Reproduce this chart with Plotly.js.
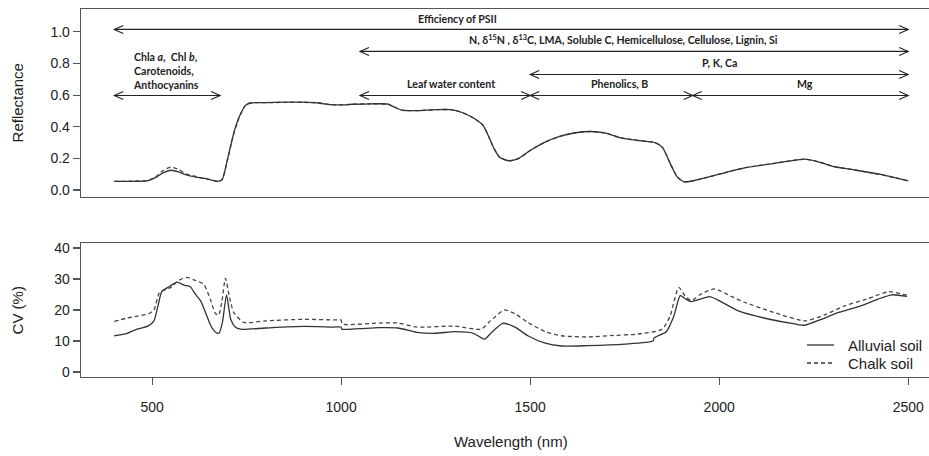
<!DOCTYPE html>
<html><head><meta charset="utf-8">
<script src="https://cdn.plot.ly/plotly-3.0.1.min.js"></script>
<style>html,body{margin:0;padding:0;background:#fff;overflow:hidden}#chart{width:929px;height:456px}</style>
</head><body><div id="chart"></div>
<script>
// ---- Reflectance (top panel) ----
const wlRefl = [400,450,490,510,530,550,570,590,620,650,672,685,700,716,730,747,760,800,850,900,940,970,1000,1030,1080,1124,1140,1160,1200,1250,1290,1320,1350,1375,1390,1405,1420,1445,1470,1500,1537,1580,1620,1660,1700,1740,1790,1830,1850,1870,1890,1908,1930,1960,2000,2067,2150,2227,2260,2300,2350,2423,2470,2500];
const reflAlluvial = [0.055,0.055,0.060,0.080,0.110,0.125,0.115,0.095,0.080,0.068,0.055,0.065,0.200,0.360,0.460,0.535,0.550,0.553,0.555,0.555,0.550,0.540,0.538,0.542,0.545,0.543,0.525,0.505,0.502,0.508,0.508,0.490,0.455,0.410,0.340,0.260,0.205,0.185,0.200,0.250,0.300,0.340,0.362,0.370,0.360,0.330,0.312,0.300,0.270,0.170,0.080,0.052,0.058,0.075,0.100,0.140,0.170,0.195,0.180,0.150,0.130,0.100,0.075,0.058];
const reflChalk    = [0.055,0.056,0.062,0.085,0.125,0.145,0.130,0.102,0.083,0.068,0.056,0.065,0.195,0.355,0.455,0.535,0.550,0.552,0.554,0.554,0.550,0.540,0.538,0.542,0.545,0.543,0.525,0.505,0.502,0.508,0.508,0.490,0.455,0.410,0.340,0.260,0.205,0.185,0.200,0.250,0.300,0.340,0.362,0.370,0.360,0.330,0.312,0.300,0.270,0.170,0.080,0.052,0.058,0.075,0.100,0.140,0.170,0.195,0.180,0.150,0.130,0.100,0.075,0.058];

// ---- CV (bottom panel) ----
const wlCvAlluvial = [400,430,460,490,505,515,526,545,566,585,601,615,628,641,655,668,677,686,697,708,720,734,800,900,980,1000,1002,1050,1100,1150,1200,1250,1300,1350,1379,1400,1428,1460,1494,1540,1583,1650,1750,1825,1828,1860,1880,1897,1912,1925,1950,1975,2000,2051,2130,2200,2227,2270,2316,2377,2420,2457,2497];
const cvAlluvial   = [11.7,12.3,13.8,14.9,16.5,21,26,27.5,29,28,27.5,25,23,19.3,15,12.8,12.5,16,24.9,17,14.5,13.8,14.2,14.7,14.5,14.5,13.8,14,14.3,14.2,12.8,12.5,13,12.5,10.6,13,15.7,14.5,11.7,9.3,8.4,8.5,9.0,10,11,13,18,24.6,23.5,22.7,23.5,24.3,23,19.7,17.1,15.5,15.1,17,19.2,21.4,23.5,24.9,24.4];
const wlCvChalk = [400,430,460,490,505,520,550,570,592,615,636,654,667,676,685,694,705,716,743,800,900,980,1000,1003,1100,1150,1200,1300,1370,1395,1432,1460,1494,1540,1583,1650,1720,1780,1849,1870,1893,1910,1926,1950,1988,2030,2067,2150,2227,2280,2333,2390,2448,2497];
const cvChalk   = [16.3,17.3,18,18.7,20,25.7,27.3,29.5,30.5,29.5,28.4,23.5,19,18.3,23,30.2,24,19.2,16,16.5,17,16.8,16.8,15.5,15.8,15.8,14.5,14.8,13.8,16.5,20,18.8,16,13,11.7,11.3,11.8,12.2,13.8,18,27.3,24.5,23,25,26.8,24.5,22.5,19,16.5,18.5,21.4,23.5,25.9,24.8];

const seriesNames = ['Alluvial soil','Chalk soil'];
const xTicks = [500,1000,1500,2000,2500];
const reflTicks = [0,0.2,0.4,0.6,0.8,1.0];
const cvTicks = [0,10,20,30,40];

// ---- Arrow annotations ----
const arrowLabels = ['Efficiency of PSII',
  'N, δ<sup>15</sup>N , δ<sup>13</sup>C, LMA, Soluble C, Hemicellulose, Cellulose, Lignin, Si',
  'P, K, Ca','Leaf water content','Phenolics, B','Mg',
  'Chla <i>a</i>,  Chl <i>b</i>,<br>Carotenoids,<br>Anthocyanins'];
const arrowStart = [400,1050,1500,1050,1500,1930,400];
const arrowEnd   = [2500,2500,2500,1500,1930,2500,680];
const arrowLevel = [1.015,0.876,0.73,0.597,0.597,0.597,0.597];

const labelPosX = [1307,1748,2001,1291,1736,2227,445];
const labelPosY = [1.082,0.95,0.80,0.667,0.667,0.667,0.752];

const lineCol = '#333333';
const solid = {color:lineCol,width:1.3,shape:'spline',smoothing:0.6};
const dashed = {color:'#444444',width:1.3,dash:'4px,3px',shape:'spline',smoothing:0.6};

const traces = [
  {x:wlRefl,y:reflChalk,xaxis:'x2',yaxis:'y2',mode:'lines',line:dashed,showlegend:false,hoverinfo:'skip'},
  {x:wlRefl,y:reflAlluvial,xaxis:'x2',yaxis:'y2',mode:'lines',line:solid,showlegend:false,hoverinfo:'skip'},
  {x:wlCvAlluvial,y:cvAlluvial,xaxis:'x',yaxis:'y',mode:'lines',line:solid,name:seriesNames[0],showlegend:false},
  {x:wlCvChalk,y:cvChalk,xaxis:'x',yaxis:'y',mode:'lines',line:dashed,name:seriesNames[1],showlegend:false}
];

const shapes = [];
const annotations = [];
const annFont = {family:'Lato, "Open Sans", sans-serif',size:10.6,color:'#222',weight:'bold'};
for (let i=0;i<arrowLabels.length;i++){
  shapes.push({type:'line',xref:'x2',yref:'y2',x0:arrowStart[i],x1:arrowEnd[i],y0:arrowLevel[i],y1:arrowLevel[i],line:{color:'#222',width:1.1}});
  shapes.push({type:'path',xref:'x2',yref:'y2',xsizemode:'pixel',ysizemode:'pixel',xanchor:arrowStart[i],yanchor:arrowLevel[i],path:'M 9 4 L 0 0 L 9 -4',line:{color:'#222',width:1.1}});
  shapes.push({type:'path',xref:'x2',yref:'y2',xsizemode:'pixel',ysizemode:'pixel',xanchor:arrowEnd[i],yanchor:arrowLevel[i],path:'M -9 4 L 0 0 L -9 -4',line:{color:'#222',width:1.1}});
  const isLeft = i===arrowLabels.length-1;
  annotations.push({xref:'x2',yref:'y2',x:labelPosX[i],y:labelPosY[i],text:arrowLabels[i],showarrow:false,
    font:annFont,xanchor:isLeft?'left':'center',yanchor:'middle',align:isLeft?'left':'center'});
}
const titleFont = {family:'"Liberation Sans", Arial, sans-serif',size:15,color:'#222'};
annotations.push({xref:'paper',yref:'paper',x:-0.075,y:(377-103)/368,text:'Reflectance',textangle:-90,showarrow:false,font:titleFont,xanchor:'center',yanchor:'middle'});
annotations.push({xref:'paper',yref:'paper',x:-0.075,y:(377-310)/368,text:'CV (%)',textangle:-90,showarrow:false,font:titleFont,xanchor:'center',yanchor:'middle'});
annotations.push({xref:'x',yref:'paper',x:1450,y:-(441.7-377)/368,text:'Wavelength (nm)',showarrow:false,font:titleFont,xanchor:'center',yanchor:'middle'});

// manual legend (bottom-right of CV panel)
const px = v => (v-81)/848, py = v => (377-v)/368;
const legendRows = [345,363];
const legendDash = ['solid','4px,3px'];
for (let k=0;k<seriesNames.length;k++){
  shapes.push({type:'line',xref:'paper',yref:'paper',x0:px(807),x1:px(834),y0:py(legendRows[k]),y1:py(legendRows[k]),line:{color:lineCol,width:1.3,dash:legendDash[k]}});
  annotations.push({xref:'paper',yref:'paper',x:px(846),y:py(legendRows[k]),text:seriesNames[k],showarrow:false,xanchor:'left',yanchor:'middle',font:titleFont});
}

const tickFont = {family:'"Liberation Sans", Arial, sans-serif',size:14,color:'#222'};
const axCommon = {showgrid:false,zeroline:false,showline:true,linecolor:'#555',linewidth:1.3,ticks:'outside',ticklen:7,tickcolor:'#555',tickwidth:1.1,tickfont:tickFont};

const layout = {
  width:929,height:456,
  margin:{l:81,r:0,t:9,b:79},
  paper_bgcolor:'#fff',plot_bgcolor:'#fff',
  xaxis:Object.assign({},axCommon,{anchor:'y',range:[312,2555],tickvals:xTicks,ticktext:xTicks.map(String),mirror:true,ticklabelstandoff:10}),
  yaxis:Object.assign({},axCommon,{domain:[0,(377-243)/368],range:[-1.6,41.6],tickvals:cvTicks,ticktext:cvTicks.map(String),anchor:'x'}),
  xaxis2:Object.assign({},axCommon,{anchor:'y2',range:[312,2555],showticklabels:false,ticks:'',mirror:true}),
  yaxis2:Object.assign({},axCommon,{domain:[(377-197)/368,1],range:[-0.044,1.144],tickvals:reflTicks,ticktext:reflTicks.map(v=>v.toFixed(1)),anchor:'x2'}),
  showlegend:false,
  shapes:shapes,annotations:annotations
};
Plotly.newPlot('chart',traces,layout,{staticPlot:true,displayModeBar:false});
</script></body></html>
